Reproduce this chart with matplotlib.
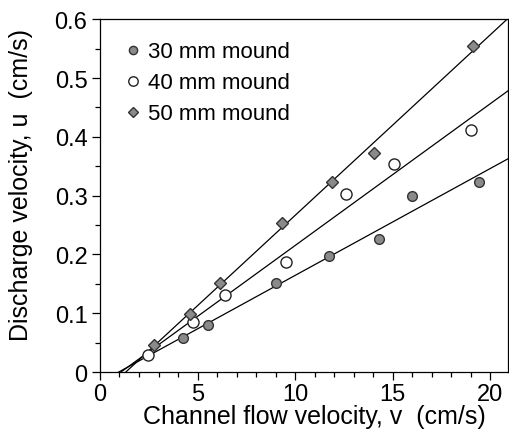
import matplotlib
matplotlib.use('Agg')
import matplotlib.pyplot as plt
import numpy as np
from matplotlib.ticker import MultipleLocator

plt.rcParams['font.family'] = ['Liberation Sans', 'DejaVu Sans']

# 30 mm mound
v30 = [4.24, 5.56, 9.01, 11.74, 14.27, 15.98, 19.4]
u30 = [0.058, 0.081, 0.151, 0.198, 0.226, 0.299, 0.324]
# 40 mm mound
v40 = [2.44, 4.75, 6.41, 9.52, 12.6, 15.08, 19.01]
u40 = [0.030, 0.086, 0.131, 0.187, 0.303, 0.354, 0.412]
# 50 mm mound
v50 = [2.79, 4.62, 6.15, 9.3, 11.91, 14.02, 19.09]
u50 = [0.046, 0.099, 0.151, 0.254, 0.324, 0.372, 0.555]

labels = ['30 mm mound', '40 mm mound', '50 mm mound']
yticks = [0, 0.1, 0.2, 0.3, 0.4, 0.5, 0.6]
yticklabels = ['0', '0.1', '0.2', '0.3', '0.4', '0.5', '0.6']

fig = plt.figure(figsize=(5.1, 4.39), dpi=100)
ax = fig.add_axes([0.196, 0.150, 0.800, 0.804])

xmax = 20.9

# least-squares lines, drawn from the v-intercept to the right edge
for v, u in [(v30, u30), (v40, u40), (v50, u50)]:
    m, b = np.polyfit(v, u, 1)
    x0 = -b / m
    xs = np.array([x0, xmax])
    ax.plot(xs, m * xs + b, color='black', lw=0.9, zorder=1)

ax.plot(v30, u30, 'o', ms=7, mfc='#8a8a8a', mec='#333333', mew=1.0, ls='none', label=labels[0], zorder=3)
ax.plot(v40, u40, 'o', ms=8, mfc='white', mec='#222222', mew=1.0, ls='none', label=labels[1], zorder=3)
ax.plot(v50, u50, 'D', ms=6, mfc='#8a8a8a', mec='#333333', mew=1.0, ls='none', label=labels[2], zorder=3)

ax.set_xlim(0, xmax)
ax.set_ylim(0, 0.6)
ax.xaxis.set_major_locator(MultipleLocator(5))
ax.xaxis.set_minor_locator(MultipleLocator(1))
ax.set_yticks(yticks)
ax.set_yticklabels(yticklabels)
ax.yaxis.set_minor_locator(MultipleLocator(0.05))

ax.tick_params(which='both', direction='out', labelsize=17, width=0.9, pad=3)
ax.tick_params(which='major', length=6)
ax.tick_params(which='minor', length=3.5)
ax.tick_params(axis='x', pad=2)
for s in ax.spines.values():
    s.set_linewidth(0.9)

ax.set_xlabel('Channel flow velocity, v  (cm/s)', fontsize=18)
ax.set_ylabel('Discharge velocity, u  (cm/s)', fontsize=18)
ax.xaxis.set_label_coords(0.525, -0.09)
ax.yaxis.set_label_coords(-0.164, 0.533)

ax.legend(loc='upper left', frameon=False, fontsize=16, handletextpad=0.15,
          handlelength=1.0, labelspacing=0.45, borderaxespad=0.6, markerscale=0.85)

fig.savefig('out.png', dpi=100)
